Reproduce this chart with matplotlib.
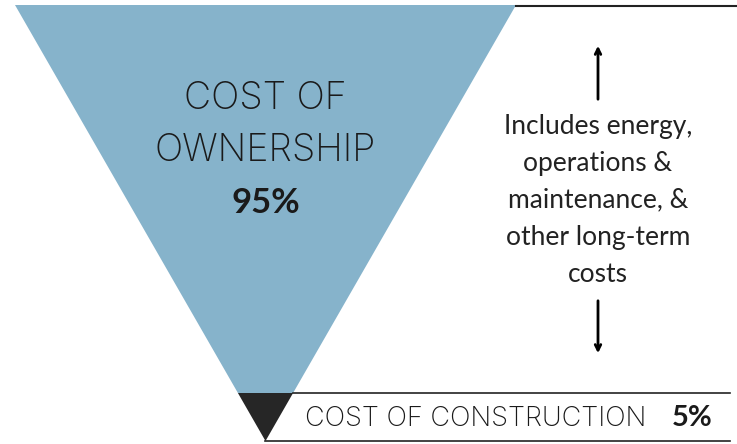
import matplotlib.pyplot as plt
from matplotlib.patches import Polygon

# data
segments = ["COST OF\nOWNERSHIP", "COST OF CONSTRUCTION"]
shares = [95, 5]
note = "Includes energy,\noperations &\nmaintenance, &\nother long-term\ncosts"

blue = "#86b3cb"
dark = "#262626"

# layout in pixel units (y grows downward)
W, H = 737, 444
top_y, tip_y = 5, 441
left_x, right_x = 15, 516
cx = (left_x + right_x) / 2
split_y = 393          # where the dark tip starts


def half_width(y):
    return (right_x - left_x) / 2 * (tip_y - y) / (tip_y - top_y)


fig = plt.figure(figsize=(W / 100, H / 100), dpi=100)
ax = fig.add_axes([0, 0, 1, 1])
ax.set_xlim(0, W)
ax.set_ylim(H, 0)
ax.axis("off")

hw = half_width(split_y)
ax.add_patch(Polygon([(left_x, top_y), (right_x, top_y), (cx + hw, split_y), (cx - hw, split_y)],
                     closed=True, facecolor=blue, edgecolor="none"))
ax.add_patch(Polygon([(cx - hw, split_y), (cx + hw, split_y), (cx, tip_y)],
                     closed=True, facecolor=dark, edgecolor="none"))

# guide lines
ax.plot([right_x, W], [top_y + 1.5, top_y + 1.5], color="#222222", lw=1.5)
ax.plot([cx + hw, W - 7], [split_y, split_y], color="#222222", lw=1.2)
ax.plot([cx, W - 7], [tip_y, tip_y], color="#222222", lw=1.2)

light = dict(family=["Inter", "DejaVu Sans"], fontweight="light", color="#1a1a1a")
bold = dict(family=["Lato", "DejaVu Sans"], fontweight="bold", color="#1a1a1a")

for i, line in enumerate(segments[0].split("\n")):
    ax.text(cx, 99 + 52 * i, line, ha="center", va="center", fontsize=27, **light)
ax.text(cx, 203, "{}%".format(shares[0]), ha="center", va="center", fontsize=25, **bold)

ax.text(305, 419, segments[1], ha="left", va="center", fontsize=19.5, **light)
ax.text(692, 418, "{}%".format(shares[1]), ha="center", va="center", fontsize=21, **bold)

# side note with arrows
nx = 598
ax.text(nx, 200, note, ha="center", va="center", fontsize=19, linespacing=1.6,
        family=["Lato", "DejaVu Sans"], color="#222222")
ax.annotate("", xy=(nx, 43), xytext=(nx, 102),
            arrowprops=dict(arrowstyle="->", color="black", lw=2))
ax.annotate("", xy=(nx, 356), xytext=(nx, 298),
            arrowprops=dict(arrowstyle="->", color="black", lw=2))

fig.savefig("out.png", dpi=100)
